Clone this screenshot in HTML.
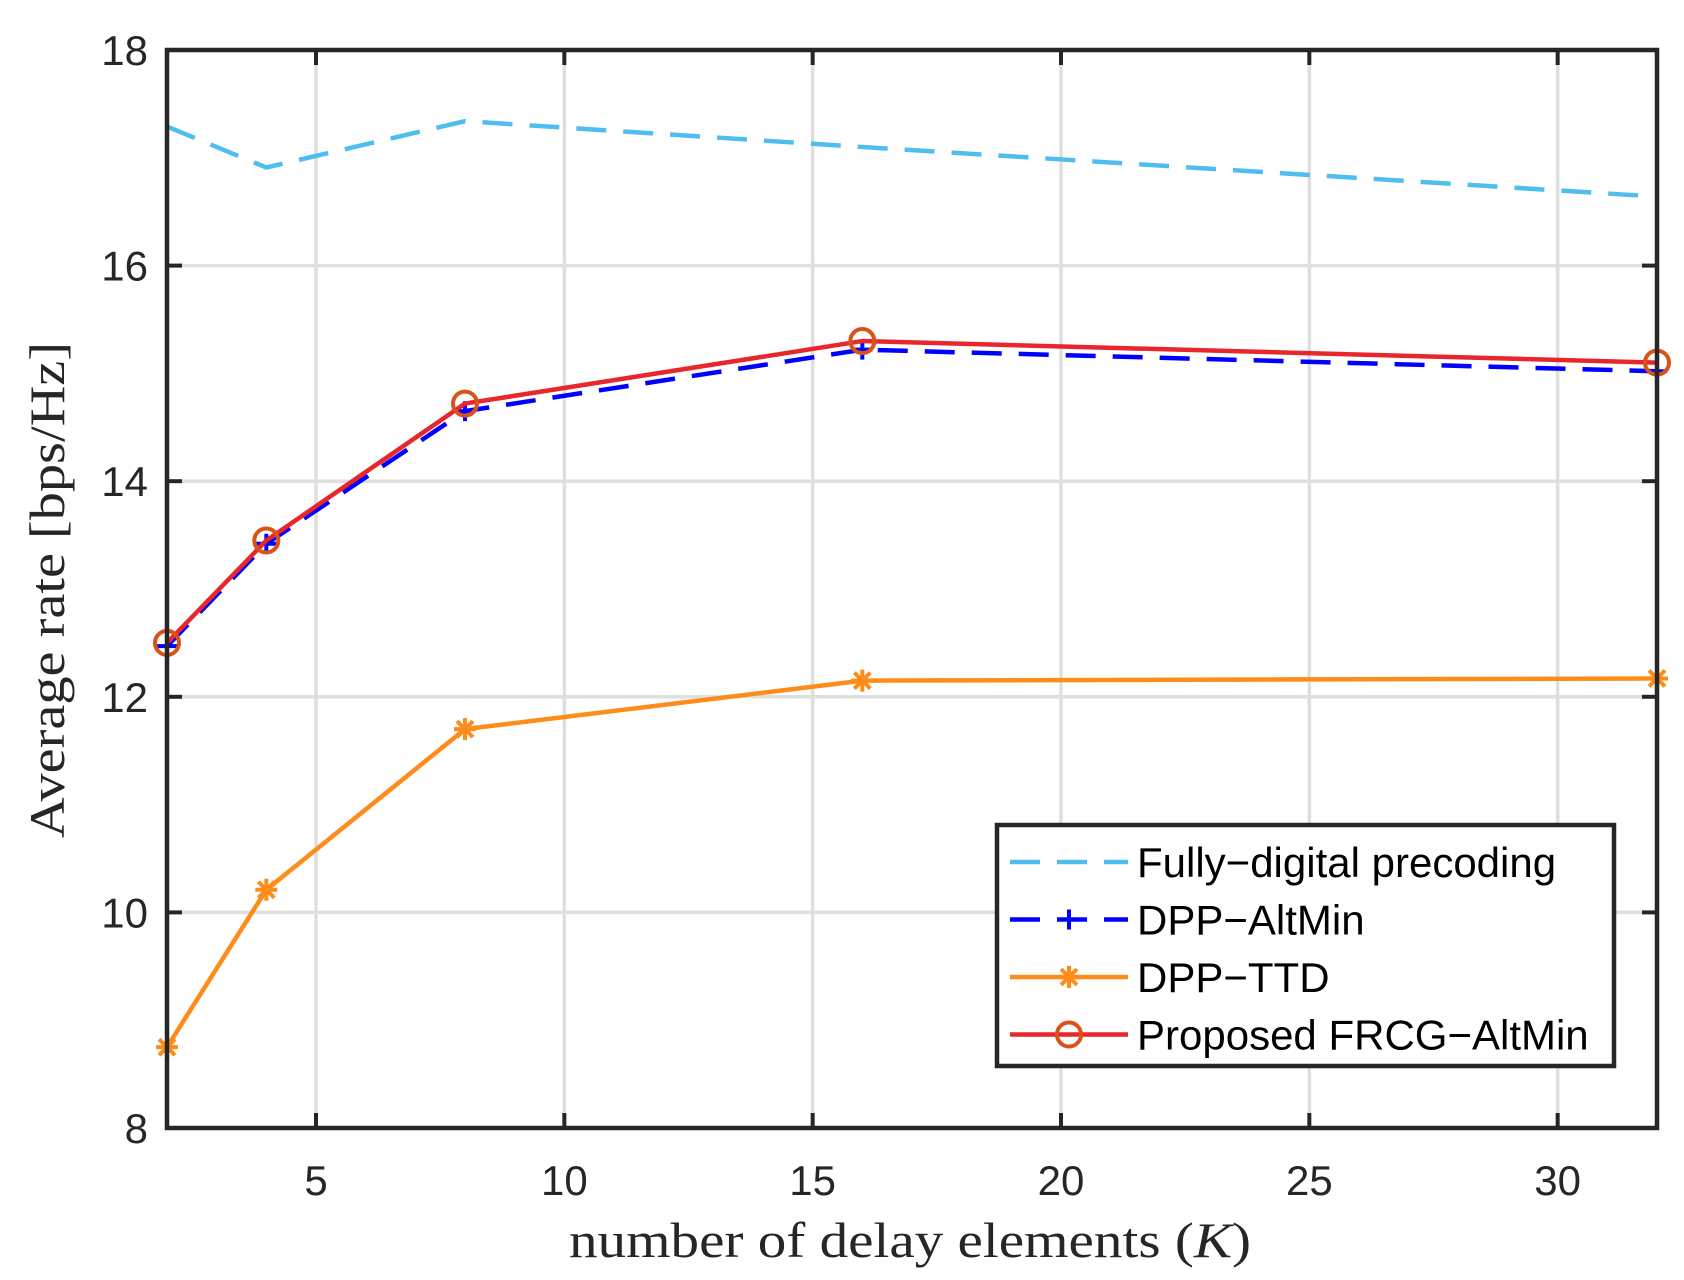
<!DOCTYPE html>
<html><head><meta charset="utf-8"><style>body{margin:0;background:#fff}svg{display:block}</style></head>
<body>
<svg id="chart" width="1684" height="1280" xmlns="http://www.w3.org/2000/svg">
<g id="grid"></g>
<g id="series"></g>
<g id="axes"></g>
<text x="910" y="1257" text-anchor="middle" textLength="682" lengthAdjust="spacingAndGlyphs" font-family="Liberation Serif, serif" font-size="50" fill="#262626">number of delay elements (<tspan font-style="italic">K</tspan>)</text>
<text transform="translate(64,590) rotate(-90)" text-anchor="middle" textLength="496" lengthAdjust="spacingAndGlyphs" font-family="Liberation Serif, serif" font-size="50" fill="#262626">Average rate [bps/Hz]</text>
<g id="legend"></g>
</svg>
<script>
const kValues=[2,4,8,16,32];
const fullyDigital=[17.29,16.91,17.34,17.1,16.64];
const dppAltMin=[12.47,13.42,14.65,15.22,15.02];
const dppTTD=[8.75,10.21,11.7,12.15,12.17];
const frcgAltMin=[12.5,13.45,14.72,15.3,15.1];
const xTicks=[5,10,15,20,25,30];
const yTicks=[8,10,12,14,16,18];
const L=167,R=1657,T=50,B=1128,xmin=2,xmax=32,ymin=8,ymax=18;
const X=v=>L+(v-xmin)/(xmax-xmin)*(R-L);
const Y=v=>B-(v-ymin)/(ymax-ymin)*(B-T);
const NS='http://www.w3.org/2000/svg';
function mk(tag,attrs,parent){const e=document.createElementNS(NS,tag);for(const k in attrs)e.setAttribute(k,attrs[k]);parent.appendChild(e);return e;}
const grid=document.getElementById('grid'),axes=document.getElementById('axes'),ser=document.getElementById('series'),leg=document.getElementById('legend');
xTicks.forEach(t=>{const g=mk('line',{x1:X(t),x2:X(t),y1:T,y2:B,stroke:'#dfdfdf','stroke-width':3.5},grid);

mk('line',{x1:X(t),x2:X(t),y1:B,y2:B-15,stroke:'#262626','stroke-width':4},axes);
mk('line',{x1:X(t),x2:X(t),y1:T,y2:T+15,stroke:'#262626','stroke-width':4},axes);
const tx=mk('text',{x:X(t),y:1195,'text-anchor':'middle','font-family':'Liberation Sans, sans-serif','font-size':42,fill:'#262626'},axes);tx.textContent=t;
});
yTicks.forEach(t=>{const g=mk('line',{x1:L,x2:R,y1:Y(t),y2:Y(t),stroke:'#dfdfdf','stroke-width':3.5},grid);

mk('line',{x1:L,x2:L+15,y1:Y(t),y2:Y(t),stroke:'#262626','stroke-width':4},axes);
mk('line',{x1:R,x2:R-15,y1:Y(t),y2:Y(t),stroke:'#262626','stroke-width':4},axes);
const tx=mk('text',{x:148,y:Y(t)+15,'text-anchor':'end','font-family':'Liberation Sans, sans-serif','font-size':42,fill:'#262626'},axes);tx.textContent=t;
});
const frame=mk('rect',{x:L,y:T,width:R-L,height:B-T,fill:'none',stroke:'#262626','stroke-width':4.5},axes);

function marker(type,x,y,color,p){
 if(type==='plus'){mk('path',{d:`M${x-10} ${y}H${x+10}M${x} ${y-10}V${y+10}`,stroke:color,'stroke-width':4,fill:'none'},p);}
 else if(type==='star'){mk('path',{d:`M${x-11} ${y}H${x+11}M${x} ${y-11}V${y+11}M${x-8} ${y-8}L${x+8} ${y+8}M${x-8} ${y+8}L${x+8} ${y-8}`,stroke:color,'stroke-width':4,fill:'none'},p);}
 else if(type==='circle'){mk('circle',{cx:x,cy:y,r:12,stroke:color,'stroke-width':4,fill:'none'},p);}
}
const seriesDefs=[
 {name:'fully-digital-line',label:'Fully\u2212digital precoding',data:fullyDigital,color:'#4dbeee',dash:'30 17',m:null,mc:null},
 {name:'dpp-altmin-line',label:'DPP\u2212AltMin',data:dppAltMin,color:'#0000ff',dash:'30 17',m:'plus',mc:'#0000ff'},
 {name:'dpp-ttd-line',label:'DPP\u2212TTD',data:dppTTD,color:'#ff8c1a',dash:null,m:'star',mc:'#ff8c1a'},
 {name:'frcg-altmin-line',label:'Proposed FRCG\u2212AltMin',data:frcgAltMin,color:'#e8262b',dash:null,m:'circle',mc:'#d95319'}];
seriesDefs.forEach(s=>{const g=mk('g',{},ser);
 
 const pts=kValues.map((k,i)=>X(k)+','+Y(s.data[i])).join(' ');
 const a={points:pts,fill:'none',stroke:s.color,'stroke-width':4.5,'stroke-linejoin':'round'};if(s.dash)a['stroke-dasharray']=s.dash;
 mk('polyline',a,g);
 if(s.m)kValues.forEach((k,i)=>marker(s.m,X(k),Y(s.data[i]),s.mc,g));});
const lb=mk('rect',{x:997,y:825,width:617,height:241,fill:'#fff',stroke:'#262626','stroke-width':4.5},leg);

seriesDefs.forEach((s,i)=>{const y=862+i*57.5;const g=mk('g',{},leg);
 
 const a={x1:1010,x2:1128,y1:y,y2:y,stroke:s.color,'stroke-width':4.5};if(s.dash)a['stroke-dasharray']=s.dash;
 mk('line',a,g);if(s.m)marker(s.m,1069,y,s.mc,g);
 const t=mk('text',{x:1137,y:y+15,'font-family':'Liberation Sans, sans-serif','font-size':42,fill:'#000'},g);t.textContent=s.label;});
</script>
</body></html>
